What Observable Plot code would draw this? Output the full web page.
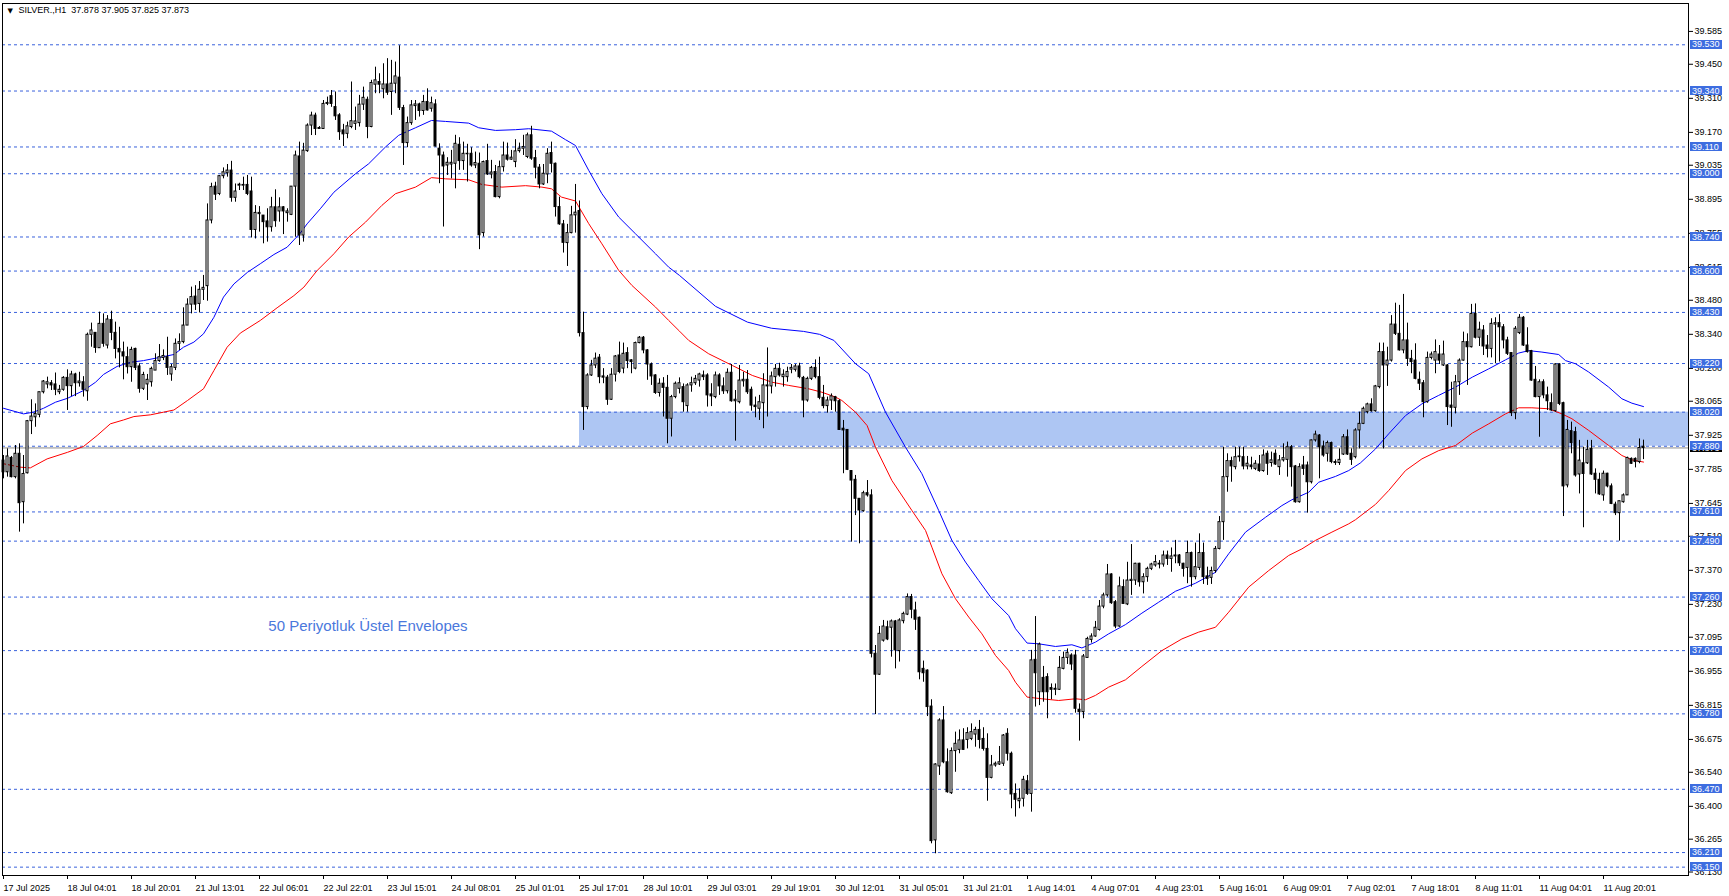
<!DOCTYPE html>
<html><head><meta charset="utf-8">
<script src="https://cdn.jsdelivr.net/npm/d3@7"></script>
<script src="https://cdn.jsdelivr.net/npm/@observablehq/plot@0.6"></script>
<style>html,body{margin:0;padding:0;background:#fff;overflow:hidden}</style>
</head><body><div id="chart"></div>
<script>
// ---- data (SILVER., H1) ----
const opens = [
37.821,37.773,37.832,37.753,37.849,37.650,37.769,37.983,37.999,38.009,
38.102,38.134,38.139,38.134,38.102,38.112,38.161,38.127,38.175,38.139,
38.143,38.106,38.338,38.346,38.283,38.383,38.294,38.399,38.346,38.280,
38.266,38.246,38.205,38.280,38.208,38.116,38.134,38.143,38.191,38.230,
38.243,38.246,38.175,38.202,38.301,38.308,38.376,38.462,38.495,38.465,
38.523,38.538,38.808,38.947,38.917,38.990,39.002,39.013,38.901,38.951,
38.951,38.954,38.927,38.769,38.834,38.828,38.804,38.780,38.862,38.845,
38.862,38.838,38.831,38.947,39.071,38.746,39.093,39.198,39.239,39.184,
39.184,39.287,39.319,39.274,39.240,39.178,39.164,39.192,39.205,39.208,
39.284,39.304,39.192,39.366,39.377,39.347,39.367,39.336,39.370,39.395,
39.270,39.126,39.208,39.278,39.285,39.258,39.295,39.267,39.285,39.103,
39.075,39.034,39.038,39.041,39.119,39.052,39.080,39.082,39.034,39.041,
38.756,39.052,38.997,39.007,38.904,39.027,39.075,39.058,39.048,39.093,
39.103,39.069,39.158,39.064,39.025,38.956,38.997,39.085,39.041,38.863,
38.792,38.715,38.756,38.829,38.847,38.345,38.041,38.171,38.212,38.244,
38.167,38.162,38.071,38.174,38.253,38.199,38.263,38.233,38.199,38.304,
38.326,38.274,38.216,38.171,38.099,38.137,38.120,37.993,38.082,38.116,
38.123,38.045,38.130,38.139,38.150,38.171,38.171,38.093,38.082,38.171,
38.126,38.106,38.182,38.065,38.061,38.147,38.153,38.112,38.047,38.034,
38.057,38.126,38.126,38.164,38.198,38.164,38.164,38.195,38.194,38.208,
38.161,38.068,38.157,38.202,38.164,38.079,38.045,38.068,38.082,38.065,
37.952,37.947,37.778,37.742,37.664,37.613,37.687,37.678,37.027,36.941,
37.081,37.136,37.134,37.160,37.038,37.161,37.188,37.260,37.205,37.175,
36.965,36.958,36.810,36.260,36.564,36.753,36.581,36.454,36.627,36.632,
36.671,36.673,36.677,36.695,36.714,36.677,36.636,36.517,36.568,36.572,
36.575,36.698,36.616,36.451,36.421,36.431,36.503,36.451,37.002,36.869,
36.928,36.931,36.886,36.879,36.879,36.965,37.010,37.020,37.020,36.797,
36.787,37.010,37.084,37.098,37.125,37.221,37.267,37.353,37.239,37.139,
37.301,37.230,37.326,37.328,37.397,37.321,37.342,37.376,37.390,37.397,
37.394,37.431,37.417,37.427,37.431,37.397,37.380,37.441,37.342,37.380,
37.441,37.345,37.339,37.367,37.458,37.568,37.753,37.819,37.794,37.835,
37.835,37.797,37.801,37.787,37.805,37.778,37.849,37.811,37.849,37.794,
37.822,37.824,37.876,37.797,37.650,37.801,37.801,37.732,37.904,37.924,
37.879,37.849,37.893,37.815,37.811,37.846,37.917,37.849,37.835,37.945,
37.972,38.020,38.052,38.024,38.123,38.267,38.212,38.232,38.380,38.342,
38.274,38.315,38.239,38.232,38.153,38.139,38.061,38.243,38.232,38.257,
38.212,38.212,38.047,38.038,38.143,38.232,38.308,38.287,38.424,38.326,
38.356,38.294,38.280,38.380,38.386,38.369,38.315,38.263,38.016,38.345,
38.408,38.294,38.271,38.153,38.082,38.143,38.089,38.057,38.024,38.216,
38.057,37.719,37.942,37.938,37.764,37.810,37.810,37.869,37.767,37.742,
37.678,37.767,37.715,37.640,37.605,37.650,37.678,37.828,37.828,37.815,37.878];
const highs = [
37.842,37.869,37.838,37.883,37.890,37.842,37.986,38.071,38.054,38.102,
38.150,38.164,38.150,38.181,38.130,38.166,38.194,38.188,38.180,38.184,
38.166,38.345,38.386,38.346,38.431,38.424,38.417,38.435,38.390,38.369,
38.308,38.287,38.287,38.283,38.219,38.184,38.175,38.205,38.260,38.298,
38.276,38.328,38.216,38.321,38.342,38.449,38.486,38.534,38.540,38.557,
38.582,38.876,38.961,38.965,38.993,39.024,39.038,39.051,38.958,38.961,
38.986,38.993,38.986,38.869,38.865,38.828,38.856,38.903,38.934,38.901,
38.865,38.856,38.947,39.093,39.130,39.125,39.205,39.253,39.249,39.194,
39.301,39.315,39.342,39.336,39.247,39.203,39.212,39.377,39.274,39.322,
39.356,39.315,39.384,39.438,39.411,39.452,39.473,39.466,39.459,39.526,
39.281,39.233,39.301,39.301,39.290,39.322,39.349,39.315,39.304,39.123,
39.089,39.066,39.096,39.158,39.148,39.130,39.121,39.107,39.089,39.085,
39.052,39.121,39.055,39.034,39.052,39.130,39.126,39.096,39.140,39.126,
39.158,39.167,39.195,39.096,39.038,39.038,39.103,39.130,39.044,38.904,
38.808,38.792,38.866,38.956,38.888,38.431,38.178,38.233,38.263,38.257,
38.199,38.171,38.199,38.253,38.308,38.304,38.285,38.236,38.308,38.331,
38.331,38.277,38.222,38.174,38.157,38.162,38.171,38.089,38.144,38.161,
38.136,38.137,38.164,38.171,38.180,38.189,38.178,38.137,38.185,38.178,
38.161,38.198,38.216,38.109,38.212,38.184,38.191,38.123,38.082,38.089,
38.178,38.284,38.185,38.216,38.221,38.194,38.205,38.216,38.216,38.221,
38.167,38.164,38.208,38.235,38.246,38.130,38.082,38.095,38.085,38.071,
37.986,37.947,37.780,37.760,37.664,37.695,37.739,37.701,37.061,37.139,
37.164,37.161,37.166,37.164,37.171,37.198,37.273,37.271,37.239,37.178,
36.997,36.961,36.838,36.575,36.760,36.810,36.636,36.640,36.705,36.714,
36.719,36.723,36.739,36.725,36.753,36.723,36.698,36.609,36.582,36.646,
36.695,36.719,36.623,36.492,36.472,36.523,36.527,37.041,37.180,37.071,
36.975,36.945,36.903,36.903,37.016,37.034,37.047,37.027,37.041,36.821,
37.024,37.095,37.109,37.160,37.246,37.276,37.394,37.356,37.246,37.342,
37.331,37.403,37.476,37.399,37.399,37.356,37.383,37.399,37.431,37.410,
37.449,37.449,37.462,37.493,37.435,37.399,37.490,37.445,37.482,37.520,
37.482,37.383,37.383,37.468,37.591,37.876,37.849,37.835,37.876,37.876,
37.876,37.838,37.835,37.821,37.842,37.865,37.860,37.856,37.865,37.842,
37.890,37.897,37.883,37.801,37.808,37.838,37.815,37.906,37.942,37.928,
37.901,37.901,37.897,37.824,37.869,37.928,37.947,37.869,37.952,38.020,
38.041,38.057,38.075,38.130,38.304,38.304,38.287,38.417,38.468,38.459,
38.504,38.386,38.274,38.301,38.185,38.150,38.267,38.267,38.317,38.294,
38.312,38.216,38.143,38.171,38.239,38.349,38.342,38.463,38.465,38.390,
38.376,38.335,38.404,38.408,38.421,38.380,38.328,38.263,38.372,38.421,
38.413,38.367,38.274,38.208,38.153,38.153,38.123,38.095,38.219,38.219,
38.061,37.986,37.979,37.958,37.904,37.876,37.904,37.904,37.787,37.769,
37.778,37.769,37.725,37.650,37.654,37.684,37.835,37.832,37.832,37.910,37.905];
const lows = [
37.746,37.753,37.750,37.746,37.527,37.561,37.766,37.928,37.958,37.997,
38.095,38.116,38.109,38.088,38.092,38.106,38.027,38.084,38.084,38.123,
38.082,38.065,38.287,38.262,38.283,38.287,38.280,38.314,38.239,38.202,
38.153,38.177,38.143,38.191,38.098,38.109,38.068,38.123,38.191,38.225,
38.232,38.171,38.147,38.191,38.273,38.301,38.376,38.424,38.438,38.428,
38.479,38.476,38.794,38.890,38.910,38.979,38.986,38.883,38.883,38.931,
38.931,38.910,38.736,38.732,38.760,38.712,38.719,38.760,38.780,38.801,
38.750,38.801,38.828,38.739,38.705,38.719,39.088,39.157,39.157,39.184,
39.184,39.280,39.273,39.219,39.137,39.112,39.144,39.185,39.178,39.192,
39.260,39.144,39.189,39.329,39.329,39.308,39.322,39.240,39.329,39.260,
39.034,39.107,39.199,39.219,39.233,39.240,39.258,39.253,39.110,38.959,
38.781,38.993,38.979,38.938,39.014,39.014,38.966,39.027,39.021,38.688,
38.740,38.993,38.979,38.901,38.897,39.007,39.052,39.055,39.025,39.085,
39.075,39.062,39.055,38.979,38.938,38.952,38.959,39.003,38.822,38.788,
38.674,38.619,38.753,38.756,38.329,37.945,38.030,38.167,38.199,38.137,
38.137,38.048,38.068,38.144,38.178,38.178,38.199,38.178,38.194,38.301,
38.260,38.151,38.130,38.093,38.082,38.000,37.890,37.918,38.075,38.095,
38.020,38.020,38.102,38.130,38.123,38.150,38.041,38.043,38.075,38.089,
38.093,38.095,38.061,37.901,38.054,38.123,38.093,38.024,37.997,37.986,
37.952,38.000,38.095,38.123,38.164,38.123,38.143,38.178,38.185,38.157,
37.997,38.061,38.150,38.157,38.071,38.034,38.016,38.027,38.020,37.945,
37.767,37.780,37.486,37.595,37.479,37.609,37.671,37.010,36.777,36.938,
37.075,37.081,37.013,36.965,36.993,37.150,37.184,37.171,37.123,36.920,
36.910,36.769,36.246,36.205,36.527,36.575,36.454,36.449,36.540,36.616,
36.630,36.636,36.670,36.643,36.636,36.627,36.421,36.513,36.561,36.568,
36.564,36.586,36.390,36.356,36.390,36.397,36.445,36.376,36.808,36.814,
36.828,36.760,36.838,36.855,36.876,36.961,36.983,36.958,36.783,36.668,
36.760,37.010,37.071,37.095,37.120,37.212,37.260,37.230,37.130,37.136,
37.230,37.225,37.267,37.308,37.301,37.273,37.321,37.369,37.383,37.376,
37.383,37.390,37.362,37.397,37.386,37.342,37.315,37.301,37.331,37.369,
37.312,37.308,37.312,37.358,37.454,37.493,37.691,37.732,37.783,37.815,
37.783,37.783,37.783,37.780,37.773,37.773,37.760,37.794,37.801,37.760,
37.815,37.753,37.712,37.646,37.646,37.760,37.605,37.725,37.897,37.746,
37.835,37.815,37.808,37.801,37.801,37.842,37.842,37.801,37.828,37.869,
37.969,38.013,38.020,38.020,38.116,37.869,38.126,38.226,38.335,38.271,
38.260,38.208,38.178,38.153,38.109,37.997,38.057,38.235,38.178,38.216,
38.208,37.965,37.958,38.013,38.089,38.230,38.130,38.284,38.321,38.290,
38.253,38.243,38.243,38.219,38.226,38.280,38.253,38.002,37.989,38.339,
38.290,38.263,38.147,38.079,37.917,38.075,38.027,38.024,38.020,38.047,
37.591,37.709,37.849,37.753,37.684,37.545,37.805,37.760,37.684,37.678,
37.654,37.709,37.640,37.595,37.490,37.646,37.678,37.805,37.791,37.808,37.825];
const closes = [
37.773,37.838,37.753,37.849,37.646,37.766,37.983,38.002,38.013,38.102,
38.146,38.143,38.130,38.112,38.112,38.161,38.127,38.175,38.139,38.146,
38.112,38.338,38.356,38.284,38.383,38.301,38.401,38.346,38.280,38.266,
38.249,38.205,38.276,38.202,38.116,38.173,38.153,38.198,38.230,38.246,
38.251,38.202,38.205,38.301,38.308,38.376,38.462,38.493,38.462,38.523,
38.531,38.808,38.945,38.914,38.990,39.006,39.013,38.901,38.927,38.955,
38.954,38.917,38.769,38.839,38.839,38.801,38.780,38.862,38.805,38.862,
38.845,38.845,38.947,39.075,38.746,39.095,39.198,39.239,39.184,39.188,
39.287,39.291,39.287,39.236,39.171,39.162,39.195,39.216,39.215,39.284,
39.312,39.192,39.373,39.384,39.366,39.367,39.333,39.370,39.400,39.271,
39.126,39.208,39.281,39.285,39.258,39.295,39.260,39.290,39.112,39.075,
39.030,39.045,39.045,39.123,39.052,39.082,39.082,39.034,39.044,38.747,
39.048,38.997,39.005,38.904,39.027,39.075,39.058,39.066,39.092,39.103,
39.110,39.158,39.062,39.025,38.956,39.000,39.082,39.041,38.863,38.792,
38.716,38.756,38.829,38.840,38.345,38.041,38.171,38.212,38.240,38.164,
38.162,38.071,38.174,38.249,38.185,38.260,38.230,38.226,38.304,38.326,
38.274,38.216,38.167,38.099,38.137,38.120,37.993,38.082,38.137,38.139,
38.061,38.130,38.139,38.157,38.175,38.164,38.089,38.085,38.171,38.126,
38.106,38.182,38.065,38.071,38.150,38.153,38.102,38.047,38.041,38.061,
38.130,38.130,38.167,38.198,38.171,38.174,38.185,38.202,38.208,38.164,
38.068,38.157,38.202,38.164,38.079,38.045,38.068,38.085,38.065,37.947,
37.945,37.783,37.739,37.664,37.616,37.687,37.678,37.027,36.941,37.109,
37.139,37.086,37.160,37.041,37.164,37.191,37.260,37.208,37.167,36.951,
36.947,36.808,36.257,36.572,36.753,36.581,36.458,36.627,36.657,36.671,
36.632,36.701,36.705,36.714,36.673,36.636,36.517,36.568,36.575,36.581,
36.691,36.616,36.449,36.427,36.431,36.509,36.451,37.000,36.947,37.065,
36.869,36.869,36.879,36.883,36.969,37.010,37.031,36.983,36.801,36.787,
37.016,37.088,37.098,37.134,37.221,37.267,37.353,37.235,37.139,37.304,
37.232,37.328,37.331,37.397,37.321,37.342,37.376,37.394,37.404,37.394,
37.431,37.417,37.427,37.431,37.399,37.376,37.441,37.342,37.383,37.441,
37.342,37.335,37.367,37.458,37.568,37.753,37.819,37.797,37.835,37.838,
37.797,37.808,37.794,37.808,37.778,37.842,37.808,37.822,37.805,37.822,
37.831,37.876,37.794,37.650,37.794,37.787,37.732,37.904,37.928,37.876,
37.842,37.893,37.815,37.811,37.824,37.917,37.846,37.824,37.945,37.972,
38.034,38.052,38.024,38.126,38.267,38.212,38.232,38.380,38.342,38.274,
38.315,38.239,38.226,38.157,38.137,38.061,38.243,38.257,38.267,38.232,
38.257,38.041,38.038,38.143,38.232,38.308,38.287,38.424,38.326,38.359,
38.290,38.280,38.383,38.386,38.369,38.315,38.260,38.016,38.363,38.408,
38.294,38.267,38.150,38.082,38.143,38.089,38.065,38.027,38.216,38.054,
37.715,37.947,37.893,37.760,37.821,37.766,37.865,37.764,37.742,37.682,
37.767,37.715,37.643,37.605,37.654,37.678,37.832,37.808,37.815,37.873,37.873];

// 50-period exponential envelopes (upper blue, lower red), sampled along the lines
const upperBars = [0,5,7.5,10,13,16,20,23,25,28.4,31.7,35,38.4,42.6,45,47.6,50,52.6,55,57.6,61,64.2,67.6,70.9,72.6,74.2,75.9,79.2,82.6,88,91.3,95.5,98.8,103,107,110.5,116.3,118.8,123,128,131.3,137,140.5,143,146.3,149.6,153.8,158,163,166.3,169,178,186,192,200,204,207.6,213,216.3,220.5,225.5,229.6,233.8,237.1,240.5,243.8,247.1,251.3,253,255.9,258.8,263,267.1,269.6,273,276.3,280.5,284.6,288.8,293,298,303,306.3,310.5,315.5,319.6,322.1,326.3,328.8,333,336.3,339.2,343,346.3,350.5,354.6,358.8,363,367.2,371.3,375.5,378.8,381.3,384.6,388.8,390.5,393,396.3,401.3,404.6,407.1,410];
const upperVals = [38.036,38.013,38.020,38.036,38.061,38.077,38.109,38.143,38.175,38.208,38.225,38.232,38.243,38.257,38.287,38.308,38.342,38.410,38.493,38.547,38.595,38.630,38.668,38.698,38.728,38.756,38.794,38.856,38.924,39.000,39.041,39.110,39.158,39.189,39.219,39.215,39.208,39.189,39.178,39.181,39.185,39.175,39.140,39.116,39.014,38.918,38.822,38.753,38.671,38.616,38.582,38.455,38.390,38.365,38.352,38.340,38.315,38.219,38.178,38.020,37.876,37.767,37.616,37.493,37.404,37.328,37.253,37.184,37.130,37.071,37.068,37.057,37.064,37.051,37.075,37.109,37.147,37.194,37.239,37.284,37.317,37.362,37.438,37.527,37.588,37.636,37.660,37.691,37.732,37.756,37.780,37.811,37.869,37.931,38.006,38.054,38.089,38.123,38.164,38.198,38.235,38.263,38.273,38.267,38.257,38.232,38.219,38.185,38.123,38.075,38.057,38.043];
const lowerBars = [0,4.2,6.7,10.9,16,20,23.4,26.7,30,32.6,36.7,40,42.6,46,50,52.6,55.9,59.2,64.2,68.4,72.6,75.1,78.4,82.6,86.3,90.5,94.6,98,103,107,110.5,116.3,119.6,124.6,130.5,134.6,137,139.5,143,146.3,149.6,153.8,157.1,163,166.3,169,171.3,176.3,182.2,187.2,192.2,196.3,201.3,204.6,208,209.6,213,215.9,218,222.1,227.1,230.5,232.1,234.6,238,241.3,244.6,248,251.3,253,255.9,259.6,263.8,268,270.5,273,276.3,280.5,284.6,289.6,294.6,298.8,303,306.3,311.3,316.3,321.3,324.6,328,332.1,336.3,338,343,346.3,350.5,354.6,358.8,363,367.2,371.3,375.5,378.8,382.1,386.3,389.6,392.1,396.3,401.3,404.6,407.1,410];
const lowerVals = [37.808,37.794,37.791,37.828,37.855,37.879,37.924,37.972,37.988,38.002,38.009,38.020,38.029,38.068,38.116,38.191,38.287,38.345,38.397,38.449,38.499,38.534,38.602,38.671,38.740,38.801,38.870,38.918,38.945,38.984,38.979,38.975,38.956,38.945,38.951,38.945,38.938,38.904,38.888,38.795,38.712,38.603,38.541,38.452,38.397,38.353,38.315,38.260,38.212,38.171,38.143,38.130,38.116,38.102,38.082,38.068,38.020,37.965,37.876,37.739,37.616,37.534,37.465,37.356,37.253,37.178,37.109,37.020,36.958,36.910,36.849,36.842,36.835,36.842,36.838,36.856,36.890,36.920,36.975,37.040,37.088,37.116,37.136,37.198,37.301,37.369,37.431,37.458,37.493,37.527,37.561,37.578,37.641,37.698,37.780,37.828,37.862,37.883,37.934,37.972,38.013,38.038,38.038,38.034,38.013,37.993,37.945,37.883,37.842,37.824,37.815];

const levels = [39.530,39.340,39.110,39.000,38.740,38.600,38.430,38.220,38.020,37.880,37.610,37.490,37.260,37.040,36.780,36.470,36.210,36.150];
const priceTicks = [39.585,39.450,39.310,39.170,39.035,38.895,38.755,38.615,38.480,38.340,38.200,38.065,37.925,37.785,37.645,37.510,37.370,37.230,37.095,36.955,36.815,36.675,36.540,36.400,36.265,36.130];
const timeBars = [0,16,32,48,64,80,96,112,128,144,160,176,192,208,224,240,256,272,288,304,320,336,352,368,384,400];
const timeLabels = ["17 Jul 2025","18 Jul 04:01","18 Jul 20:01","21 Jul 13:01","22 Jul 06:01","22 Jul 22:01","23 Jul 15:01","24 Jul 08:01","25 Jul 01:01","25 Jul 17:01","28 Jul 10:01","29 Jul 03:01","29 Jul 19:01","30 Jul 12:01","31 Jul 05:01","31 Jul 21:01","1 Aug 14:01","4 Aug 07:01","4 Aug 23:01","5 Aug 16:01","6 Aug 09:01","7 Aug 02:01","7 Aug 18:01","8 Aug 11:01","11 Aug 04:01","11 Aug 20:01"];
const zoneStartBar = 144, zoneTop = 38.020, zoneBottom = 37.880;
const bidPrice = 37.873;
const headerText = "SILVER.,H1\u00a0\u00a037.878 37.905 37.825 37.873";
const noteText = "50 Periyotluk Üstel Envelopes", noteBar = 66.2, notePrice = 37.139;

// ---- layout ----
const W = 1729, H = 896, mL = 2, mR = 41, mT = 3, mB = 21;
const xDomain = [-0.25, 421.25];
const yDomain = [36.1157, 39.6997];
const FONT = "Liberation Sans, Arial, sans-serif";
const LEVEL_BLUE = "#3a62dc";
const BOX_BLUE = "#3d6de0";

const n = Math.min(opens.length, highs.length, lows.length, closes.length);
const bars = d3.range(n).map(i => ({i, o: opens[i], h: highs[i], l: lows[i], c: closes[i]}));
const upper = upperBars.map((b, k) => ({b, v: upperVals[k]}));
const lower = lowerBars.map((b, k) => ({b, v: lowerVals[k]}));

const chart = Plot.plot({
  width: W, height: H,
  marginLeft: mL, marginRight: mR, marginTop: mT, marginBottom: mB,
  style: {fontFamily: FONT, fontSize: "9px", background: "#fff", color: "#000"},
  x: {type: "linear", domain: xDomain, axis: null},
  y: {type: "linear", domain: yDomain, axis: null},
  marks: [
    Plot.rect([0], {x1: zoneStartBar, x2: xDomain[1], y1: zoneBottom, y2: zoneTop, fill: "#aec6f3"}),
    Plot.ruleY(levels, {stroke: LEVEL_BLUE, strokeWidth: 1, strokeDasharray: "3,3"}),
    Plot.ruleY([bidPrice], {stroke: "#8c8c8c", strokeWidth: 1}),
    Plot.line(upper, {x: "b", y: "v", stroke: "#0000ff", strokeWidth: 1}),
    Plot.line(lower, {x: "b", y: "v", stroke: "#ff0000", strokeWidth: 1}),
    Plot.ruleX(bars, {x: "i", y1: "l", y2: "h", stroke: "#000", strokeWidth: 1}),
    Plot.rect(bars, {x1: d => d.i - 0.25, x2: d => d.i + 0.25, y1: "o", y2: "c",
      fill: d => d.c >= d.o ? "#ffffff" : "#000000", stroke: "#000", strokeWidth: 1}),
    Plot.frame({stroke: "#000", strokeWidth: 1}),
    Plot.axisY({anchor: "right", ticks: priceTicks, tickFormat: d => d.toFixed(3), tickSize: 4, tickPadding: 2,
      fontSize: 9, fontFamily: FONT, label: null, fill: "#000", stroke: "#000"}),
    Plot.axisX({anchor: "bottom", ticks: timeBars, tickFormat: (d) => timeLabels[timeBars.indexOf(d)],
      textAnchor: "start", tickSize: 4, tickPadding: 5, fontSize: 9, fontFamily: FONT, label: null, fill: "#000", stroke: "#000"}),
    Plot.text([headerText], {text: d => d, frameAnchor: "top-left", dx: 16, dy: 7, textAnchor: "start",
      lineAnchor: "middle", fontSize: 9, fontFamily: FONT, fill: "#000"}),
    Plot.text(["▼"], {text: d => d, frameAnchor: "top-left", dx: 5, dy: 7, textAnchor: "start",
      lineAnchor: "middle", fontSize: 7, fontFamily: "DejaVu Sans", fill: "#000"}),
    Plot.text([noteText], {x: noteBar, y: notePrice, text: d => d, textAnchor: "start", lineAnchor: "middle",
      fontSize: 15, fontFamily: FONT, fill: "#4a78dc"})
  ]
});
document.getElementById("chart").appendChild(chart);

// price label boxes on the right scale
const svg = d3.select(chart.tagName.toLowerCase() === "svg" ? chart : chart.querySelector("svg"));
const yS = chart.scale("y");
const axisX0 = W - mR;
function priceBox(v, fill) {
  const y = yS.apply(v);
  const g = svg.append("g").attr("text-anchor", "start");
  g.append("rect").attr("x", axisX0 + 2).attr("y", Math.round(y - 4.5)).attr("width", 32).attr("height", 9).attr("fill", fill);
  g.append("text").attr("x", axisX0 + 4).attr("y", y).attr("dy", "0.34em").attr("fill", "#fff")
    .attr("text-anchor", "start").attr("font-size", 9).attr("font-family", FONT).text(v.toFixed(3));
}
priceBox(bidPrice, "#000");
levels.forEach(v => priceBox(v, BOX_BLUE));
</script>
</body></html>
